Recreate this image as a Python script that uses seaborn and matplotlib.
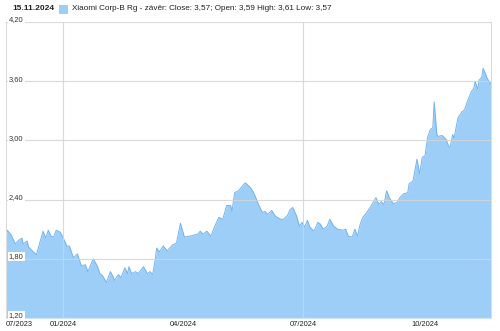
import matplotlib
matplotlib.use("Agg")
import matplotlib.pyplot as plt
import matplotlib.transforms as mtransforms
from matplotlib.patches import Rectangle
import seaborn as sns
import pandas as pd

# ---- data ----
dates = ["2023-11-19","2023-11-20","2023-11-23","2023-11-26","2023-11-28","2023-12-01","2023-12-02","2023-12-05",
         "2023-12-06","2023-12-09","2023-12-12","2023-12-17","2023-12-19","2023-12-21","2023-12-23","2023-12-25",
         "2023-12-27","2023-12-30","2024-01-01","2024-01-04","2024-01-06","2024-01-09","2024-01-12","2024-01-15",
         "2024-01-18","2024-01-20","2024-01-24","2024-01-27","2024-01-29","2024-01-31","2024-02-03","2024-02-06",
         "2024-02-08","2024-02-09","2024-02-12","2024-02-14","2024-02-17","2024-02-19","2024-02-20","2024-02-22",
         "2024-02-25","2024-02-27","2024-03-02","2024-03-05","2024-03-07","2024-03-09","2024-03-11","2024-03-12",
         "2024-03-14","2024-03-17","2024-03-20","2024-03-24","2024-03-27","2024-03-30","2024-04-02","2024-04-06",
         "2024-04-09","2024-04-12","2024-04-14","2024-04-16","2024-04-19","2024-04-22","2024-04-25","2024-04-28",
         "2024-05-01","2024-05-04","2024-05-07","2024-05-08","2024-05-10","2024-05-13","2024-05-16","2024-05-18",
         "2024-05-19","2024-05-22","2024-05-24","2024-05-26","2024-05-28","2024-05-31","2024-06-02","2024-06-04",
         "2024-06-07","2024-06-10","2024-06-14","2024-06-16","2024-06-19","2024-06-21","2024-06-23","2024-06-26",
         "2024-06-28","2024-06-30","2024-07-02","2024-07-04","2024-07-06","2024-07-09","2024-07-12","2024-07-14",
         "2024-07-16","2024-07-19","2024-07-21","2024-07-24","2024-07-27","2024-07-31","2024-08-02","2024-08-04",
         "2024-08-07","2024-08-09","2024-08-11","2024-08-13","2024-08-15","2024-08-18","2024-08-21","2024-08-25",
         "2024-08-27","2024-08-29","2024-08-31","2024-09-02","2024-09-04","2024-09-07","2024-09-10","2024-09-12",
         "2024-09-15","2024-09-18","2024-09-19","2024-09-22","2024-09-24","2024-09-25","2024-09-27","2024-09-29",
         "2024-10-01","2024-10-03","2024-10-05","2024-10-07","2024-10-08","2024-10-10","2024-10-11","2024-10-14",
         "2024-10-17","2024-10-19","2024-10-20","2024-10-22","2024-10-23","2024-10-26","2024-10-29","2024-10-31",
         "2024-11-02","2024-11-05","2024-11-07","2024-11-08","2024-11-10","2024-11-11","2024-11-13","2024-11-14",
         "2024-11-16","2024-11-17","2024-11-20"]

closes = [2.02,2.09,2.04,1.95,1.98,2.01,1.95,1.98,1.92,1.88,1.84,2.08,2.01,2.09,2.03,2.02,2.09,2.07,2.02,1.93,
          1.93,1.81,1.85,1.73,1.74,1.67,1.80,1.73,1.65,1.63,1.56,1.67,1.62,1.58,1.64,1.61,1.71,1.65,1.72,1.65,
          1.67,1.65,1.72,1.65,1.67,1.64,1.80,1.91,1.87,1.93,1.88,1.94,1.96,2.16,2.02,2.03,2.04,2.05,2.08,2.05,
          2.08,2.03,2.13,2.22,2.20,2.34,2.34,2.28,2.47,2.49,2.54,2.57,2.56,2.52,2.48,2.42,2.35,2.27,2.28,2.25,
          2.29,2.23,2.20,2.20,2.24,2.30,2.32,2.23,2.13,2.17,2.12,2.19,2.12,2.08,2.17,2.15,2.10,2.13,2.20,2.13,
          2.10,2.09,2.10,2.03,2.02,2.10,2.03,2.15,2.22,2.27,2.33,2.42,2.35,2.38,2.35,2.49,2.42,2.36,2.37,2.42,
          2.46,2.47,2.56,2.59,2.74,2.81,2.66,2.83,2.84,3.03,3.11,3.13,3.39,3.06,3.04,3.05,3.01,2.94,2.93,3.06,
          3.02,3.23,3.29,3.31,3.39,3.49,3.53,3.60,3.52,3.61,3.64,3.73,3.67,3.63,3.57]

y_ticks = [1.20, 1.80, 2.40, 3.00, 3.60, 4.20]
y_tick_labels = ["1,20", "1,80", "2,40", "3,00", "3,60", "4,20"]
x_tick_dates = ["2023-11-19", "2024-01-01", "2024-04-01", "2024-07-01", "2024-10-01"]
x_tick_labels = ["07/2023", "01/2024", "04/2024", "07/2024", "10/2024"]
x_grid_dates = ["2024-01-01", "2024-07-01"]
header_date = "15.11.2024"
legend_text = "Xiaomi Corp-B Rg - závěr: Close: 3,57; Open: 3,59 High: 3,61 Low: 3,57"

# ---- plotting ----
sns.set_theme(style="white")
plt.rcParams["font.family"] = ["Liberation Sans", "DejaVu Sans"]

df = pd.DataFrame({"date": pd.to_datetime(dates), "close": closes})

W, H = 500, 331
fig = plt.figure(figsize=(W / 100, H / 100), dpi=100)
ax = fig.add_axes([6 / W, 1 - 318 / H, 485 / W, 296 / H])

fill_c = "#9dcef8"
line_c = "#74b3ec"
ax.fill_between(df["date"], df["close"], y_ticks[0], color=fill_c, lw=0, zorder=1)
sns.lineplot(data=df, x="date", y="close", ax=ax, color=line_c, lw=0.7, zorder=2)

ax.set_ylim(y_ticks[0], y_ticks[-1])
ax.set_xlim(df["date"].iloc[0], df["date"].iloc[-1])

grid_c = "#d4d4d4"
for v in y_ticks[1:]:
    ax.axhline(v, color=grid_c, lw=0.8, alpha=0.85, zorder=3)
for d in x_grid_dates:
    ax.axvline(pd.Timestamp(d), color=grid_c, lw=0.8, alpha=0.85, zorder=3)

trans = mtransforms.blended_transform_factory(ax.transAxes, ax.transData)
for v, lab in zip(y_ticks, y_tick_labels):
    ax.text(0.006, v + 0.02, lab, transform=trans, ha="left", va="center", fontsize=5.4,
            color="#333333", zorder=5, clip_on=False,
            bbox=dict(fc="white", ec="none", pad=0.8))

ax.set_yticks([])
ax.set_xticks(pd.to_datetime(x_tick_dates))
ax.set_xticklabels(x_tick_labels)
ax.tick_params(axis="x", length=0, labelsize=5.4, pad=2.5, colors="#222222")
xl = ax.get_xticklabels()
xl[0].set_ha("left")
ax.set_xlabel("")
ax.set_ylabel("")

for s in ["top", "bottom"]:
    ax.spines[s].set_visible(False)
for s in ["left", "right"]:
    ax.spines[s].set_color("#dcdcdc")
    ax.spines[s].set_linewidth(0.8)

# header
fig.text(12 / W, 1 - 9 / H, header_date, fontsize=6.0, fontweight="bold", color="#222222",
         ha="left", va="center")
fig.patches.append(Rectangle((59 / W, 1 - 14 / H), 9 / W, 9 / H, transform=fig.transFigure,
                             facecolor=fill_c, edgecolor="none"))
fig.text(72 / W, 1 - 9 / H, legend_text, fontsize=5.9, color="#222222", ha="left", va="center")

fig.savefig("out.png", dpi=100)
